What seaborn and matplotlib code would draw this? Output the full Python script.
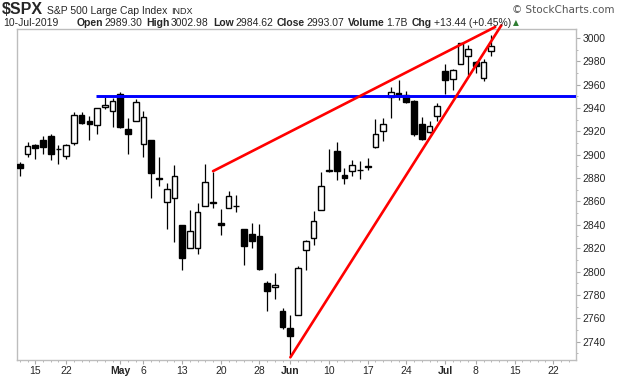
import pandas as pd
import matplotlib
matplotlib.use("Agg")
import matplotlib.pyplot as plt
import seaborn as sns

# -----------------------------
# DATA  ($SPX daily, Apr 11 - Jul 10 2019)
# -----------------------------
dates = [
    "2019-04-11", "2019-04-12", "2019-04-15", "2019-04-16", "2019-04-17", "2019-04-18",
    "2019-04-22", "2019-04-23", "2019-04-24", "2019-04-25", "2019-04-26", "2019-04-29",
    "2019-04-30", "2019-05-01", "2019-05-02", "2019-05-03", "2019-05-06", "2019-05-07",
    "2019-05-08", "2019-05-09", "2019-05-10", "2019-05-13", "2019-05-14", "2019-05-15",
    "2019-05-16", "2019-05-17", "2019-05-20", "2019-05-21", "2019-05-22", "2019-05-23",
    "2019-05-24", "2019-05-28", "2019-05-29", "2019-05-30", "2019-05-31", "2019-06-03",
    "2019-06-04", "2019-06-05", "2019-06-06", "2019-06-07", "2019-06-10", "2019-06-11",
    "2019-06-12", "2019-06-13", "2019-06-14", "2019-06-17", "2019-06-18", "2019-06-19",
    "2019-06-20", "2019-06-21", "2019-06-24", "2019-06-25", "2019-06-26", "2019-06-27",
    "2019-06-28", "2019-07-01", "2019-07-02", "2019-07-03", "2019-07-05", "2019-07-08",
    "2019-07-09", "2019-07-10",
]
opens = [
    2891.92, 2900.86, 2908.32, 2912.26, 2916.04, 2904.81, 2898.78, 2909.99, 2934.00, 2928.99,
    2925.81, 2940.58, 2937.14, 2952.33, 2922.16, 2929.21, 2908.89, 2913.03, 2879.61, 2859.84,
    2863.10, 2840.19, 2820.12, 2820.38, 2855.80, 2858.60, 2841.94, 2854.02, 2856.06, 2836.70,
    2832.41, 2830.03, 2790.25, 2786.94, 2766.15, 2751.53, 2762.64, 2818.09, 2828.51, 2852.87,
    2885.83, 2903.27, 2882.73, 2886.24, 2886.82, 2889.75, 2906.71, 2920.55, 2949.60, 2952.71,
    2951.42, 2945.78, 2926.07, 2919.66, 2932.94, 2971.41, 2964.66, 2978.08, 2984.25, 2979.77,
    2965.52, 2989.30,
]
highs = [
    2893.42, 2910.54, 2909.60, 2916.06, 2918.00, 2908.40, 2909.51, 2936.31, 2936.83, 2933.10,
    2939.88, 2949.52, 2948.22, 2954.13, 2931.68, 2947.85, 2937.32, 2913.03, 2897.96, 2875.97,
    2891.31, 2840.19, 2852.54, 2858.68, 2892.15, 2885.48, 2853.86, 2868.88, 2865.47, 2836.70,
    2841.36, 2840.51, 2792.03, 2799.00, 2768.98, 2763.07, 2804.49, 2827.28, 2852.10, 2884.97,
    2904.77, 2910.61, 2888.57, 2895.24, 2894.45, 2897.27, 2930.79, 2931.74, 2958.06, 2964.15,
    2954.92, 2946.52, 2932.59, 2929.30, 2943.98, 2977.93, 2973.21, 2995.84, 2994.03, 2980.76,
    2981.90, 3002.98,
]
lows = [
    2881.99, 2898.37, 2896.48, 2900.71, 2895.45, 2891.90, 2896.35, 2908.53, 2926.31, 2912.84,
    2917.56, 2939.35, 2924.11, 2923.36, 2900.50, 2929.21, 2898.21, 2862.60, 2873.28, 2836.40,
    2825.39, 2801.43, 2820.12, 2815.08, 2855.80, 2854.23, 2831.29, 2854.02, 2851.11, 2805.49,
    2820.19, 2801.58, 2766.06, 2776.74, 2750.52, 2728.81, 2762.64, 2800.92, 2822.45, 2852.87,
    2885.51, 2878.53, 2874.68, 2881.99, 2879.62, 2887.30, 2905.44, 2911.43, 2931.50, 2946.87,
    2944.05, 2916.01, 2912.99, 2918.57, 2929.05, 2952.22, 2955.92, 2977.96, 2967.97, 2970.09,
    2963.44, 2984.62,
]
closes = [
    2888.32, 2907.41, 2905.58, 2907.06, 2900.45, 2905.03, 2907.97, 2933.68, 2927.25, 2926.17,
    2939.88, 2943.03, 2945.83, 2923.73, 2917.52, 2945.64, 2932.47, 2884.05, 2879.42, 2870.72,
    2881.40, 2811.87, 2834.41, 2850.96, 2876.32, 2859.53, 2840.23, 2864.36, 2856.27, 2822.24,
    2826.06, 2802.39, 2783.02, 2788.86, 2752.06, 2744.45, 2803.27, 2826.15, 2843.49, 2873.34,
    2886.73, 2885.72, 2879.84, 2891.64, 2886.98, 2889.67, 2917.75, 2926.46, 2954.18, 2950.46,
    2945.35, 2917.38, 2913.78, 2924.92, 2941.76, 2964.33, 2973.01, 2995.82, 2990.41, 2975.95,
    2979.63, 2993.07,
]

tick_dates = ["2019-04-15", "2019-04-22", "2019-05-01", "2019-05-06", "2019-05-13",
              "2019-05-20", "2019-05-28", "2019-06-03", "2019-06-10", "2019-06-17",
              "2019-06-24", "2019-07-01", "2019-07-08", "2019-07-15", "2019-07-22"]
month_starts = {"2019-05-01": "May", "2019-06-03": "Jun", "2019-07-01": "Jul"}

# annotations (trading-day number counted from Apr 11, price)
resistance = 2950.5
resistance_start = "2019-04-26"
upper_trend_days = [25, 61.5]
upper_trend_vals = [2886, 3009.5]
lower_trend_days = [35, 62.3]
lower_trend_vals = [2726.5, 3011]

y_ticks = list(range(2740, 3001, 20))

# -----------------------------
# SETUP
# -----------------------------
sns.set_theme(style="white")
plt.rcParams["font.family"] = ["Liberation Sans", "DejaVu Sans"]

W, H = 620, 376
fig = plt.figure(figsize=(W / 100, H / 100), dpi=100)
ax = fig.add_axes([16.7 / W, 1 - 360 / H, (576 - 16.7) / W, (360 - 29.3) / H])

df = pd.DataFrame({"date": dates, "open": opens, "high": highs, "low": lows, "close": closes})
df["day"] = range(len(df))
df["up"] = df["close"] >= df["open"]

# calendar incl. future trading days for the axis
future = [d.strftime("%Y-%m-%d") for d in pd.bdate_range("2019-07-11", "2019-07-31")]
calendar = dates + future
x_min, x_max = -0.4, 71.95

# -----------------------------
# CANDLES
# -----------------------------
ax.vlines(df["day"], df["low"], df["high"], color="black", lw=0.9, zorder=2)
body_lo = df[["open", "close"]].min(axis=1)
body_h = (df["close"] - df["open"]).abs().clip(lower=0.3)
ax.bar(df["day"], body_h, bottom=body_lo, width=0.74,
       color=["white" if u else "black" for u in df["up"]],
       edgecolor="black", linewidth=1.0, zorder=3)

# -----------------------------
# ANNOTATION LINES
# -----------------------------
ax.hlines(resistance, calendar.index(resistance_start) - 0.1, x_max,
          color="#0000ff", lw=2.1, zorder=4)
for xs, ys in [(upper_trend_days, upper_trend_vals), (lower_trend_days, lower_trend_vals)]:
    sns.lineplot(x=xs, y=ys, ax=ax, color="#ff0000", lw=1.9, zorder=5)
for line in ax.get_lines():
    line.set_clip_on(False)

# -----------------------------
# AXES
# -----------------------------
tick_pos = [calendar.index(d) for d in tick_dates]
tick_lab = [month_starts.get(d, str(int(d[-2:]))) for d in tick_dates]
ax.set_xticks(tick_pos)
ax.set_xticklabels(tick_lab, fontsize=7.5)
for lab, d in zip(ax.get_xticklabels(), tick_dates):
    if d in month_starts:
        lab.set_fontweight("bold")
ax.set_xticks([i for i in range(len(calendar)) if x_min < i < x_max], minor=True)

ax.yaxis.tick_right()
ax.set_yticks(y_ticks)
ax.set_yticklabels([str(v) for v in y_ticks], fontsize=7.5)
ax.set_yticks(range(2730, 3007, 10), minor=True)

ax.set_xlim(x_min, x_max)
ax.set_ylim(2724.2, 3007.5)

ax.tick_params(axis="both", which="major", length=3, width=0.8, color="#aaaaaa", pad=1.5,
               bottom=True, right=True, left=False)
ax.tick_params(axis="both", which="minor", length=1.5, width=0.6, color="#aaaaaa",
               bottom=True, right=True, left=False)
for sp in ax.spines.values():
    sp.set_color("#bdbdbd")
    sp.set_linewidth(1.0)
ax.set_xlabel("")
ax.set_ylabel("")
ax.grid(False)

# -----------------------------
# HEADER
# -----------------------------
fig.canvas.draw()
renderer = fig.canvas.get_renderer()


def put(x, y, s, gap=0, **kw):
    t = fig.text(x / W, 1 - y / H, s, ha="left", va="center", **kw)
    return t.get_window_extent(renderer).x1 + gap


x = put(2, 10, "$SPX", 4, fontsize=11.5, fontweight="bold")
x = put(x, 10.5, "S&P 500 Large Cap Index", 4, fontsize=7.5)
put(x, 11, "INDX", fontsize=6.5)
fig.text(615 / W, 1 - 10 / H, "\u00a9 StockCharts.com", ha="right", va="center",
         fontsize=7.5, color="#555555", family=["DejaVu Sans"])

x = put(3, 23, "10-Jul-2019", 18, fontsize=7.5)
header = [("Open", "2989.30"), ("High", "3002.98"), ("Low", "2984.62"),
          ("Close", "2993.07"), ("Volume", "1.7B"), ("Chg", "+13.44 (+0.45%)")]
for lab, val in header:
    x = put(x, 23, lab, 1.5, fontsize=7.5, fontweight="bold")
    x = put(x, 23, val, 4, fontsize=7.5)
put(x - 1.5, 23, "\u25b2", fontsize=5.5, color="#2e7d32", family=["DejaVu Sans"])

fig.savefig("out.png", dpi=100)
plt.close()
